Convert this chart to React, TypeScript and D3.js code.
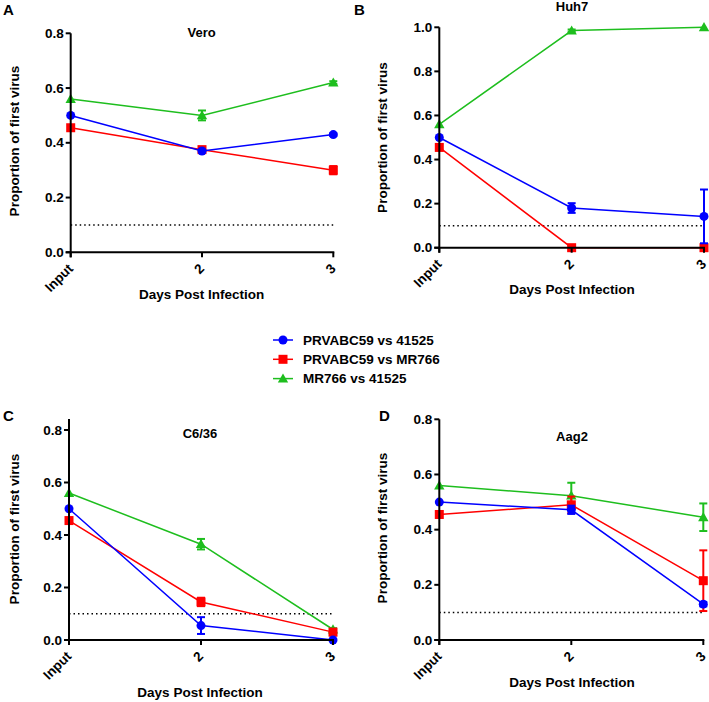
import React from "react";
import * as d3 from "d3";

const categories = ["Input", "2", "3"];
const seriesNames = ["PRVABC59 vs 41525", "PRVABC59 vs MR766", "MR766 vs 41525"];
const seriesColors = ["#0000ff", "#ff0000", "#1ebe1e"];
const seriesShapes = ["circle", "square", "triangle"];

const panelLetters = ["A", "B", "C", "D"];
const panelTitles = ["Vero", "Huh7", "C6/36", "Aag2"];
const panelYMax = [0.8, 1.0, 0.8, 0.8];
const yTicksA = [0, 0.2, 0.4, 0.6, 0.8];
const yTicksB = [0, 0.2, 0.4, 0.6, 0.8, 1.0];

// Vero
const veroBlue = [0.5, 0.37, 0.43];
const veroBlueErr = [0, 0.005, 0.005];
const veroRed = [0.455, 0.375, 0.3];
const veroRedErr = [0, 0.01, 0.015];
const veroGreen = [0.56, 0.5, 0.62];
const veroGreenErr = [0, 0.018, 0.005];
// Huh7
const huhBlue = [0.5, 0.18, 0.142];
const huhBlueErr = [0, 0.022, 0.122];
const huhRed = [0.455, 0.0, 0.0];
const huhRedErr = [0, 0, 0];
const huhGreen = [0.56, 0.985, 1.0];
const huhGreenErr = [0, 0.005, 0];
// C6/36
const c636Blue = [0.5, 0.055, 0.0];
const c636BlueErr = [0, 0.032, 0];
const c636Red = [0.455, 0.145, 0.03];
const c636RedErr = [0, 0.016, 0.012];
const c636Green = [0.56, 0.365, 0.04];
const c636GreenErr = [0, 0.02, 0.005];
// Aag2
const aagBlue = [0.5, 0.472, 0.13];
const aagBlueErr = [0, 0.015, 0.008];
const aagRed = [0.455, 0.49, 0.215];
const aagRedErr = [0, 0.03, 0.11];
const aagGreen = [0.56, 0.523, 0.445];
const aagGreenErr = [0, 0.047, 0.05];

const cutoff = 0.1;

const panelData = [
  [[veroBlue, veroBlueErr], [veroRed, veroRedErr], [veroGreen, veroGreenErr]],
  [[huhBlue, huhBlueErr], [huhRed, huhRedErr], [huhGreen, huhGreenErr]],
  [[c636Blue, c636BlueErr], [c636Red, c636RedErr], [c636Green, c636GreenErr]],
  [[aagBlue, aagBlueErr], [aagRed, aagRedErr], [aagGreen, aagGreenErr]],
];

// layout (pixels)
const layouts = [
  { left: 70.7, right: 333.3, top: 33.3, bottom: 252.3, axisTop: 33.3, title: [201.7, 34], letter: [3, 15], ylab: [15, 141], xlab: [201.7, 295] },
  { left: 439.3, right: 704, top: 27.3, bottom: 247.7, axisTop: 27.3, title: [572, 8], letter: [354, 15], ylab: [383, 137.5], xlab: [572, 290] },
  { left: 69, right: 333, top: 430, bottom: 640, axisTop: 419, title: [200, 435], letter: [3, 421], ylab: [15, 529], xlab: [200, 693] },
  { left: 439.3, right: 703.3, top: 419.3, bottom: 640, axisTop: 419.3, title: [572, 437.5], letter: [379, 421], ylab: [383, 528], xlab: [572, 683] },
];

const FONT = "'Liberation Sans', Arial, sans-serif";

function Marker({ shape, x, y, color }: { shape: string; x: number; y: number; color: string }) {
  if (shape === "circle") return <circle cx={x} cy={y} r={4.5} fill={color} />;
  if (shape === "square") return <rect x={x - 4.5} y={y - 4.5} width={9} height={9} fill={color} />;
  const s = 5.2;
  return <path d={`M${x},${y - s}L${x + s},${y + s * 0.75}L${x - s},${y + s * 0.75}Z`} fill={color} />;
}

function Panel({ idx }: { idx: number }) {
  const L = layouts[idx];
  const x = d3.scalePoint<string>().domain(categories).range([L.left, L.right]);
  const y = d3.scaleLinear().domain([0, panelYMax[idx]]).range([L.bottom, L.top]);
  const ticks = panelYMax[idx] === 1 ? yTicksB : yTicksA;
  const line = d3
    .line<number>()
    .x((_, i) => x(categories[i]) as number)
    .y((d) => y(d));
  const order = [2, 1, 0];
  return (
    <g fontFamily={FONT} fontWeight="bold">
      <text x={L.letter[0]} y={L.letter[1]} fontSize={15}>{panelLetters[idx]}</text>
      <text x={L.title[0]} y={L.title[1]} fontSize={13} textAnchor="middle" dominantBaseline="middle">{panelTitles[idx]}</text>
      {/* dotted cutoff */}
      <line x1={L.left} x2={L.right} y1={y(cutoff)} y2={y(cutoff)} stroke="#000" strokeWidth={1.5} strokeDasharray="1.5,3" />
      {/* series */}
      {order.map((si) => {
        const [vals, errs] = panelData[idx][si];
        const c = seriesColors[si];
        return (
          <g key={si}>
            <path d={line(vals) as string} fill="none" stroke={c} strokeWidth={1.5} />
            {vals.map((v, i) => {
              const e = errs[i];
              const cx = x(categories[i]) as number;
              if (!e) return null;
              const y1 = y(Math.max(0, v - e));
              const y2 = y(v + e);
              return (
                <g key={i} stroke={c} strokeWidth={2}>
                  <line x1={cx} x2={cx} y1={y1} y2={y2} />
                  <line x1={cx - 4} x2={cx + 4} y1={y2} y2={y2} />
                  {v - e > 0 && <line x1={cx - 4} x2={cx + 4} y1={y1} y2={y1} />}
                </g>
              );
            })}
            {vals.map((v, i) => (
              <Marker key={i} shape={seriesShapes[si]} x={x(categories[i]) as number} y={y(v)} color={c} />
            ))}
          </g>
        );
      })}
      {/* axes */}
      <line x1={L.left} x2={L.left} y1={L.axisTop} y2={L.bottom + 5} stroke="#000" strokeWidth={2} />
      <line x1={L.left - 5} x2={L.right + 1} y1={L.bottom} y2={L.bottom} stroke="#000" strokeWidth={2} />
      {ticks.map((t) => (
        <g key={t}>
          <line x1={L.left - 5} x2={L.left} y1={y(t)} y2={y(t)} stroke="#000" strokeWidth={2} />
          <text x={L.left - 7} y={y(t)} fontSize={13.5} textAnchor="end" dominantBaseline="central">{t.toFixed(1)}</text>
        </g>
      ))}
      {categories.map((c) => {
        const cx = x(c) as number;
        return (
          <g key={c}>
            <line x1={cx} x2={cx} y1={L.bottom} y2={L.bottom + 5} stroke="#000" strokeWidth={2} />
            <text
              transform={`translate(${cx},${L.bottom + 14}) rotate(-45)`}
              fontSize={13.5}
              textAnchor="end"
              dominantBaseline="central"
            >
              {c}
            </text>
          </g>
        );
      })}
      <text x={L.xlab[0]} y={L.xlab[1]} fontSize={13.5} textAnchor="middle" dominantBaseline="middle">Days Post Infection</text>
      <text transform={`translate(${L.ylab[0]},${L.ylab[1]}) rotate(-90)`} fontSize={13.5} textAnchor="middle" dominantBaseline="middle">
        Proportion of first virus
      </text>
    </g>
  );
}

export default function App() {
  return (
    <svg width={709} height={702} style={{ position: "absolute", left: 0, top: 0, background: "#fff" }}>
      <rect width={709} height={702} fill="#fff" />
      {[0, 1, 2, 3].map((i) => (
        <Panel key={i} idx={i} />
      ))}
      <g fontFamily={FONT} fontWeight="bold">
        {seriesNames.map((n, i) => {
          const yy = 340 + i * 19.3;
          return (
            <g key={n}>
              <line x1={273} x2={293} y1={yy} y2={yy} stroke={seriesColors[i]} strokeWidth={1.5} />
              <Marker shape={seriesShapes[i]} x={283} y={yy} color={seriesColors[i]} />
              <text x={303} y={yy} fontSize={13.5} dominantBaseline="central">{n}</text>
            </g>
          );
        })}
      </g>
    </svg>
  );
}
